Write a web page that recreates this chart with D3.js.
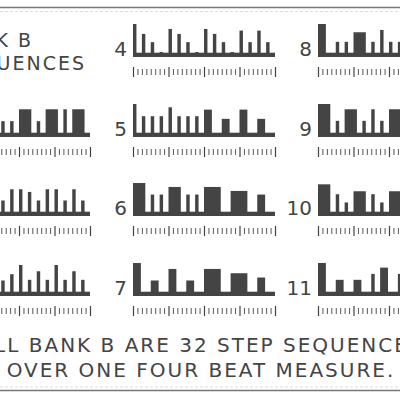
<!DOCTYPE html>
<html><head><meta charset="utf-8">
<script src="https://cdn.jsdelivr.net/npm/d3@7"></script>
<style>body{margin:0;background:#fff}svg{display:block}</style>
</head><body><svg id="c" width="400" height="400"></svg>
<script>
// Each note: [startStep, lengthSteps, level(0-10)]
const seq1 = [[0,3,10],[4,1,4.8],[6,1,4.8],[8,3,8.4],[12,1,4.8],[14,1,4.8],[16,3,8.4],[20,1,4.8],[22,3,8.4],[26,1,8.4],[28,3,8.4]];
const seq2 = [[0,1,10],[2,1,4.7],[4,1,8.1],[6,1,7.3],[8,1,8.1],[10,1,4.7],[12,1,4.7],[14,1,8.1],[16,1,8.1],[18,1,7.3],[20,1,4.7],[22,1,8.1],[24,1,8.1],[26,1,4.7],[28,1,8.1],[30,1,4.7]];
const seq3 = [[0,1,10],[2,1,4.9],[4,1,7.5],[6,1,4.9],[8,1,9.4],[10,1,4.9],[12,1,4.7],[14,1,6.6],[16,1,9.4],[18,1,4.9],[20,1,7.5],[22,1,4.9],[24,1,9.4],[26,1,4.9],[28,1,7.5],[30,1,4.9]];
const seq4 = [[0,1,10],[2,1,7],[4,1,4.5],[6,1,1.5],[8,1,8.5],[10,1,7],[12,1,4.5],[14,1,1.5],[16,1,8.5],[18,1,7],[20,1,4.5],[22,1,1.5],[24,1,8],[26,1,4.5],[28,1,8],[30,1,4.5]];
const seq5 = [[0,1,10],[2,1,6.3],[4,1,6.3],[6,1,6.3],[8,1,9],[10,1,6.3],[12,1,6.3],[14,1,6.3],[16,2,8.3],[20,2,5.5],[24,2,8.3],[28,2,5.5]];
const seq6 = [[0,3,10],[4,1,6.5],[6,1,6.5],[8,3,8.8],[12,1,6.5],[14,1,6.5],[16,4,8.8],[22,4,7.6],[28,2,6.5]];
const seq7 = [[0,2,10],[4,2,4.7],[8,2,8.2],[12,2,4.7],[16,4,8.2],[22,4,6.9],[28,2,5.6]];
const seq8 = [[0,2,10],[4,1,4.6],[6,1,4.6],[8,3,7.5],[12,1,4.6],[14,1,8.2],[16,1,4.6],[18,2,4.6],[22,1,7.5],[24,1,4.6],[26,2,8.2],[30,1,4.6]];
const seq9 = [[0,3,10],[4,1,4.9],[6,3,8.4],[10,1,4.9],[12,1,8.4],[14,1,4.9],[16,3,8.4],[20,1,4.9],[22,3,8.4],[26,1,4.9],[28,2,8.4]];
const seq10 = [[0,3,9.6],[4,1,6.6],[6,1,4.1],[8,3,7.5],[12,1,6.6],[14,1,4.1],[16,3,7.5],[20,1,6.6],[22,1,4.1],[24,3,7.5],[28,1,6.6],[30,1,4.1]];
const seq11 = [[0,2,10],[4,2,4.9],[8,2,4.9],[12,1,6.7],[14,2,8.6],[18,1,6.7],[20,2,4.9],[24,2,4.9],[28,1,6.7],[30,1,8.6]];
const sequences = [seq1,seq2,seq3,seq4,seq5,seq6,seq7,seq8,seq9,seq10,seq11];
const panelLabels = ["1","2","3","4","5","6","7","8","9","10","11"];
const titleLines = ["BANK B","SEQUENCES"];
const footLines = ["ALL BANK B ARE 32 STEP SEQUENCES","OVER ONE FOUR BEAT MEASURE."];
const STEPS = 32;

const svg = d3.select("#c");
const ink = "#444";
const font = "'DejaVu Sans', sans-serif";
const colX = [-52, 133, 318];
const rowBase = [57, 137, 216, 296];
const pw = 142, ph = 33;

svg.append("line").attr("x1",0).attr("x2",400).attr("y1",7.5).attr("y2",7.5).attr("stroke","#777").attr("stroke-width",1.5);
svg.append("line").attr("x1",0).attr("x2",400).attr("y1",11.5).attr("y2",11.5).attr("stroke","#ddd").attr("stroke-dasharray","3,2");
svg.append("line").attr("x1",0).attr("x2",400).attr("y1",390.5).attr("y2",390.5).attr("stroke","#777").attr("stroke-width",1.5);
svg.append("line").attr("x1",0).attr("x2",400).attr("y1",387).attr("y2",387).attr("stroke","#ddd").attr("stroke-dasharray","3,2");

svg.append("g").selectAll("text").data(titleLines).join("text")
  .attr("x",(d,i)=> i===0?33:86).attr("y",(d,i)=>47+i*23).attr("text-anchor","end")
  .attr("font-family",font).attr("font-size",19).attr("fill",ink).attr("letter-spacing",2).text(d=>d);

sequences.forEach((seq,k)=>{
  const col = k<3?0:(k<7?1:2);
  const row = k<3?k+1:(k<7?k-3:k-7);
  const x0 = colX[col], base = rowBase[row];
  const x = d3.scaleLinear().domain([0,STEPS]).range([x0,x0+pw]);
  const y = d3.scaleLinear().domain([0,10]).range([base, base-ph]);
  const g = svg.append("g");
  g.append("rect").attr("x",x(0)).attr("y",base-4.3).attr("width",x(STEPS)-x(0)).attr("height",4.3).attr("fill",ink);
  g.selectAll("rect.n").data(seq).join("rect").attr("class","n")
    .attr("x",d=>x(d[0])).attr("y",d=>y(d[2]))
    .attr("width",d=>x(d[0]+d[1])-x(d[0])-1).attr("height",d=>base-y(d[2])).attr("fill",ink);
  g.selectAll("line").data(d3.range(STEPS+1)).join("line")
    .attr("x1",d=>x(d)+0.5).attr("x2",d=>x(d)+0.5)
    .attr("y1",d=>d%8===0?base+10:base+12).attr("y2",d=>d%8===0?base+20:base+18)
    .attr("stroke",ink).attr("stroke-width",d=>d%8===0?1.2:0.9);
  g.append("text").attr("x",x0-6).attr("y",base-1).attr("text-anchor","end")
    .attr("font-family",font).attr("font-size",20).attr("fill",ink).text(panelLabels[k]);
});

svg.append("g").selectAll("text").data(footLines).join("text")
  .attr("x",201).attr("y",(d,i)=>352+i*25).attr("text-anchor","middle")
  .attr("font-family",font).attr("font-size",20).attr("fill",ink).attr("letter-spacing",2).text(d=>d);
</script></body></html>
